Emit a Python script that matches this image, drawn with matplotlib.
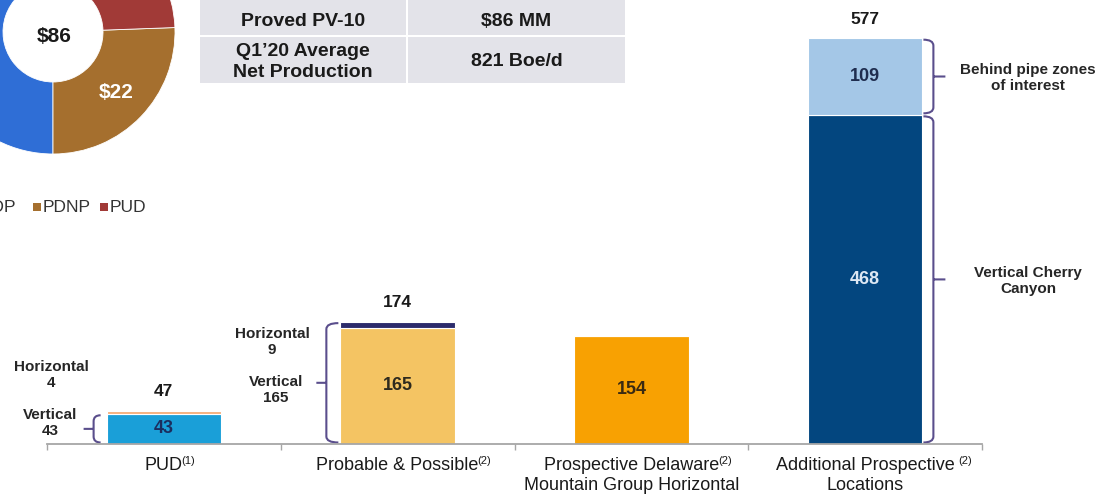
import math
import matplotlib
matplotlib.use("Agg")
import matplotlib.pyplot as plt
from matplotlib.patches import Rectangle, PathPatch
from matplotlib.path import Path
from matplotlib.transforms import IdentityTransform

plt.rcParams["font.family"] = ["Liberation Sans", "DejaVu Sans"]

W, H = 1099, 497

# ---- data -------------------------------------------------------------
pie_labels = ["PDP", "PDNP", "PUD"]
pie_values = [52, 22, 12]          # $MM
pie_colors = ["#2F6ED6", "#A56F2E", "#A13A37"]

categories = ["PUD", "Probable & Possible", "Prospective Delaware", "Additional Prospective"]
category_line2 = ["", "", "Mountain Group Horizontal", "Locations"]
footnotes = ["(1)", "(2)", "(2)", "(2)"]

lower_values = [43, 165, 154, 468]
upper_values = [4, 9, 0, 109]
lower_names = ["Vertical", "Vertical", None, "Vertical Cherry\nCanyon"]
upper_names = ["Horizontal", "Horizontal", None, "Behind pipe zones\nof interest"]

table_rows = [("Proved PV-10", "$86 MM"),
              ("Q1\u201920 Average\nNet Production", "821 Boe/d")]

# ---- styles -----------------------------------------------------------
lower_colors = ["#1A9FD8", "#F4C463", "#F8A102", "#03467F"]
upper_colors = ["#F6B07E", "#2C2B6B", "#FFFFFF", "#A4C7E7"]
lower_text_colors = ["#1B2D5E", "#2E2A1E", "#3A2A12", "#DDE8F4"]
upper_text_color = "#1F2D4F"
brace_color = "#5A4E8C"
text_dark = "#1A1A1A"

fig = plt.figure(figsize=(W / 100, H / 100), dpi=100)
fig.patch.set_facecolor("white")

# overlay in pixel coordinates (origin top-left) for table / legend / notes
ov = fig.add_axes([0, 0, 1, 1], zorder=0)
ov.set_xlim(0, W)
ov.set_ylim(H, 0)
ov.axis("off")

# ---- donut ------------------------------------------------------------
cx, cy, R = 53, 32, 122
pax = fig.add_axes([(cx - R) / W, (H - cy - R) / H, 2 * R / W, 2 * R / H], zorder=2)
pdp_angle = pie_values[0] / sum(pie_values) * 360
wedges, _ = pax.pie(pie_values, colors=pie_colors, radius=1.0,
                    startangle=270 - pdp_angle, counterclock=True,
                    wedgeprops=dict(width=(R - 50) / R, edgecolor="white", linewidth=0.6))
pax.set_xlim(-1, 1)
pax.set_ylim(-1, 1)
pax.set_aspect("equal")
pax.axis("off")
pax.text(0.01, -0.035, f"${sum(pie_values)}", ha="center", va="center",
         fontsize=15, fontweight="bold", color=text_dark)
w = wedges[1]
mid = math.radians((w.theta1 + w.theta2) / 2)
pax.text(0.72 * math.cos(mid), 0.72 * math.sin(mid), f"${pie_values[1]}",
         ha="center", va="center", fontsize=15, fontweight="bold", color="white")

# legend under the donut
leg_x = [-29, 33, 100]
for lab, col, lx in zip(pie_labels, pie_colors, leg_x):
    ov.add_patch(Rectangle((lx, 203), 7.5, 7.5, color=col, lw=0))
    ov.text(lx + 9.5, 207, lab, ha="left", va="center", fontsize=12.5, color="#333333")

# ---- summary table ----------------------------------------------------
cell_color = "#E3E3E9"
col_x = [(200, 406), (408, 625)]
row_y = [(-10, 35), (37, 83)]
row_text_y = [21, 62]
for (r0, r1), ty, row in zip(row_y, row_text_y, table_rows):
    for (c0, c1), txt in zip(col_x, row):
        ov.add_patch(Rectangle((c0, r0), c1 - c0, r1 - r0, color=cell_color, lw=0))
        ov.text((c0 + c1) / 2, ty, txt, ha="center", va="center", fontsize=14,
                fontweight="bold", color=text_dark, linespacing=1.3)

# ---- stacked bars -----------------------------------------------------
ax = fig.add_axes([47 / W, 53 / H, 935 / W, 422 / H], zorder=1)
ax.patch.set_alpha(0)
x = list(range(len(categories)))
bw = 0.49
ax.bar(x, lower_values, width=bw, color=lower_colors, edgecolor="white", linewidth=0.8)
ax.bar(x, upper_values, bottom=lower_values, width=bw, color=upper_colors,
       edgecolor="white", linewidth=0.8)
ax.set_xlim(-0.5, len(categories) - 0.5)
ax.set_ylim(0, 600)
for s in ["top", "right", "left"]:
    ax.spines[s].set_visible(False)
ax.spines["bottom"].set_color("#A6A6A6")
ax.spines["bottom"].set_linewidth(1.3)
ax.set_yticks([])
ax.set_xticks(x)
ax.set_xticklabels([""] * len(x))
ax.tick_params(axis="x", which="major", length=0)
ax.set_xticks([i - 0.5 for i in range(len(x) + 1)], minor=True)
ax.tick_params(axis="x", which="minor", length=4, color="#A6A6A6", width=1)

for i in x:
    lo, up = lower_values[i], upper_values[i]
    ax.text(i, lo / 2, f"{lo}", ha="center", va="center", fontsize=13,
            fontweight="bold", color=lower_text_colors[i])
    if up >= 50:
        ax.text(i, lo + up / 2, f"{up}", ha="center", va="center", fontsize=13,
                fontweight="bold", color=upper_text_color)
    if up > 0:
        ax.annotate(f"{lo + up}", xy=(i, lo + up), xytext=(0, 19),
                    textcoords="offset pixels", ha="center", va="center",
                    fontsize=12.5, fontweight="bold", color=text_dark)

# category labels with footnote markers
xt = ax.get_xaxis_transform()
line1 = []
for i in x:
    t = ax.annotate(categories[i], xy=(i, 0), xycoords=xt, xytext=(0, -22),
                    textcoords="offset pixels", ha="center", va="center",
                    fontsize=13, color=text_dark)
    line1.append(t)
    if category_line2[i]:
        ax.annotate(category_line2[i], xy=(i, 0), xycoords=xt, xytext=(0, -42),
                    textcoords="offset pixels", ha="center", va="center",
                    fontsize=13, color=text_dark)

fig.canvas.draw()
renderer = fig.canvas.get_renderer()
sup_gap = [-2, -2, -1, 4]
for i, t in enumerate(line1):
    bb = t.get_window_extent(renderer)
    fig.text(bb.x1 + sup_gap[i], bb.y1 + 2, footnotes[i], transform=IdentityTransform(),
             ha="left", va="top", fontsize=8, color=text_dark)


# ---- braces -----------------------------------------------------------
def brace(i, v0, v1, side, gap, depth, tick):
    edge = i - bw / 2 if side == "left" else i + bw / 2
    (ex, y0), = ax.transData.transform([(edge, v0)])
    (_, y1), = ax.transData.transform([(edge, v1)])
    y0 += 1.5
    y1 -= 1.5
    sgn = -1 if side == "left" else 1
    xe = ex + sgn * gap
    xv = xe + sgn * depth
    r = min(6, (y1 - y0) / 4)
    ym = (y0 + y1) / 2
    verts = [(xe, y1), (xv, y1), (xv, y1 - r), (xv, y0 + r), (xv, y0), (xe, y0),
             (xv, ym), (xv + sgn * tick, ym)]
    codes = [Path.MOVETO, Path.CURVE3, Path.CURVE3, Path.LINETO, Path.CURVE3, Path.CURVE3,
             Path.MOVETO, Path.LINETO]
    fig.add_artist(PathPatch(Path(verts, codes), transform=IdentityTransform(),
                             fill=False, edgecolor=brace_color, linewidth=1.5))


brace(0, 0, lower_values[0], "left", 6, 7, 10)
brace(1, 0, lower_values[1] + upper_values[1], "left", 2, 12, 10)
brace(3, 0, lower_values[3], "right", 1, 10, 12)
brace(3, lower_values[3], lower_values[3] + upper_values[3], "right", 1, 10, 12)

# ---- segment notes beside the bars ------------------------------------
notes = [
    (51, 375, f"{upper_names[0]}\n{upper_values[0]}"),
    (50, 423, f"{lower_names[0]}\n{lower_values[0]}"),
    (272, 342, f"{upper_names[1]}\n{upper_values[1]}"),
    (276, 390, f"{lower_names[1]}\n{lower_values[1]}"),
    (1028, 78, upper_names[3]),
    (1028, 281, lower_names[3]),
]
for nx, ny, txt in notes:
    ov.text(nx, ny, txt, ha="center", va="center", fontsize=11, fontweight="bold",
            color="#262626", linespacing=1.25)

fig.savefig("out.png", dpi=100, facecolor="white")
